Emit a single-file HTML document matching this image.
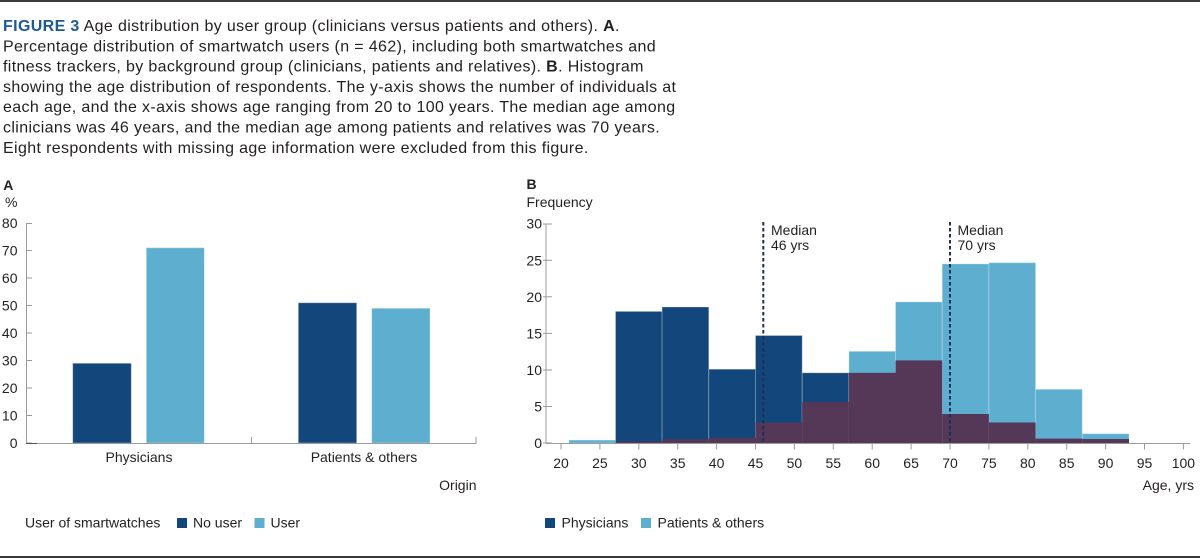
<!DOCTYPE html>
<html>
<head>
<meta charset="utf-8">
<style>
  html,body{margin:0;padding:0;background:#fff;}
  body{width:1200px;height:558px;overflow:hidden;}
  svg{display:block;}
  text{font-family:"Liberation Sans",Arial,Helvetica,sans-serif;fill:#231f20;}
  .cap{font-size:16px;letter-spacing:0.36px;}
  .t{font-size:14px;}
</style>
</head>
<body>
<svg width="1200" height="558" viewBox="0 0 1200 558" xmlns="http://www.w3.org/2000/svg">
  <!-- borders -->
  <rect x="0" y="0" width="1200" height="2" fill="#3a3a3a"/>
  <rect x="0" y="556" width="1200" height="2" fill="#3a3a3a"/>

  <!-- caption -->
  <text class="cap" x="3" y="31"><tspan font-weight="bold" style="fill:#1b5a96">FIGURE 3</tspan> Age distribution by user group (clinicians versus patients and others). <tspan font-weight="bold">A</tspan>.</text>
  <text class="cap" x="3" y="51.3">Percentage distribution of smartwatch users (n = 462), including both smartwatches and</text>
  <text class="cap" x="3" y="71.6">fitness trackers, by background group (clinicians, patients and relatives). <tspan font-weight="bold">B</tspan>. Histogram</text>
  <text class="cap" x="3" y="91.9">showing the age distribution of respondents. The y-axis shows the number of individuals at</text>
  <text class="cap" x="3" y="112.2">each age, and the x-axis shows age ranging from 20 to 100 years. The median age among</text>
  <text class="cap" x="3" y="132.5">clinicians was 46 years, and the median age among patients and relatives was 70 years.</text>
  <text class="cap" x="3" y="152.8">Eight respondents with missing age information were excluded from this figure.</text>

  <!-- ============ Panel A ============ -->
  <text class="t" x="3.3" y="190" font-weight="bold">A</text>
  <text class="t" x="5" y="207">%</text>

  <g class="t" text-anchor="end">
    <text x="17.5" y="448">0</text>
    <text x="17.5" y="420.5">10</text>
    <text x="17.5" y="393">20</text>
    <text x="17.5" y="365.5">30</text>
    <text x="17.5" y="338">40</text>
    <text x="17.5" y="310.5">50</text>
    <text x="17.5" y="283">60</text>
    <text x="17.5" y="255.5">70</text>
    <text x="17.5" y="228">80</text>
  </g>

  <!-- bars A -->
  <g stroke="#ffffff" stroke-opacity="0.3" stroke-width="1">
    <rect x="72.7" y="363.25" width="58.6" height="79.75" fill="#13477b"/>
    <rect x="146.3" y="247.75" width="58" height="195.25" fill="#5eaed0"/>
    <rect x="298.3" y="302.75" width="58.4" height="140.25" fill="#13477b"/>
    <rect x="371.7" y="308.25" width="58.3" height="134.75" fill="#5eaed0"/>
  </g>

  <!-- axes A -->
  <g stroke="#9b9b9b" stroke-width="1" fill="none">
    <line x1="26.5" y1="223" x2="26.5" y2="443.5"/>
    <line x1="26" y1="443.5" x2="476.5" y2="443.5"/>
    <line x1="26.5" y1="443" x2="32" y2="443"/>
    <line x1="26.5" y1="415.5" x2="32" y2="415.5"/>
    <line x1="26.5" y1="388" x2="32" y2="388"/>
    <line x1="26.5" y1="360.5" x2="32" y2="360.5"/>
    <line x1="26.5" y1="333" x2="32" y2="333"/>
    <line x1="26.5" y1="305.5" x2="32" y2="305.5"/>
    <line x1="26.5" y1="278" x2="32" y2="278"/>
    <line x1="26.5" y1="250.5" x2="32" y2="250.5"/>
    <line x1="26.5" y1="223.5" x2="32" y2="223.5"/>
    <line x1="251.5" y1="437" x2="251.5" y2="443.5"/>
    <line x1="476" y1="437" x2="476" y2="443.5"/>
  </g>
  <line x1="26" y1="443.5" x2="37" y2="443.5" stroke="#555" stroke-width="1"/>

  <text class="t" x="139" y="462" text-anchor="middle">Physicians</text>
  <text class="t" x="364" y="462" text-anchor="middle">Patients &amp; others</text>
  <text class="t" x="476.5" y="490" text-anchor="end">Origin</text>

  <!-- legend A -->
  <text class="t" x="25" y="527.7">User of smartwatches</text>
  <rect x="177" y="518" width="10" height="10" fill="#13477b"/>
  <text class="t" x="193" y="527.7">No user</text>
  <rect x="254.5" y="518" width="10" height="10" fill="#5eaed0"/>
  <text class="t" x="270.5" y="527.7">User</text>

  <!-- ============ Panel B ============ -->
  <text class="t" x="526.5" y="189" font-weight="bold">B</text>
  <text class="t" x="526.5" y="207">Frequency</text>

  <g class="t" text-anchor="end">
    <text x="542" y="448">0</text>
    <text x="542" y="411.5">5</text>
    <text x="542" y="375">10</text>
    <text x="542" y="338.4">15</text>
    <text x="542" y="301.8">20</text>
    <text x="542" y="265.3">25</text>
    <text x="542" y="228.7">30</text>
  </g>

  <!-- histogram -->
  <g stroke="#ffffff" stroke-opacity="0.25" stroke-width="1">
    <rect x="568.8" y="440.1" width="46.7" height="2.9" fill="#5eaed0"/>
    <rect x="615.5" y="311.4" width="46.6" height="131.6" fill="#13477b"/>
    <rect x="662.1" y="307.0" width="46.7" height="136.0" fill="#13477b"/>
    <rect x="708.8" y="369.2" width="46.7" height="73.8" fill="#13477b"/>
    <rect x="755.5" y="335.5" width="46.7" height="107.5" fill="#13477b"/>
    <rect x="802.2" y="372.8" width="46.7" height="70.2" fill="#13477b"/>
    <rect x="848.9" y="351.3" width="46.6" height="91.7" fill="#5eaed0"/>
    <rect x="895.5" y="301.9" width="46.7" height="141.1" fill="#5eaed0"/>
    <rect x="942.2" y="263.9" width="46.7" height="179.1" fill="#5eaed0"/>
    <rect x="988.9" y="262.7" width="46.7" height="180.3" fill="#5eaed0"/>
    <rect x="1035.6" y="389.3" width="46.7" height="53.7" fill="#5eaed0"/>
    <rect x="1082.3" y="433.7" width="46.7" height="9.3" fill="#5eaed0"/>
  </g>
  <g fill="#553757">
    <rect x="615.5" y="441.5" width="46.6" height="1.5"/>
    <rect x="662.1" y="439.3" width="46.7" height="3.7"/>
    <rect x="708.8" y="437.9" width="46.7" height="5.1"/>
    <rect x="755.5" y="422.5" width="46.7" height="20.5"/>
    <rect x="802.2" y="402.1" width="46.7" height="40.9"/>
    <rect x="848.9" y="372.8" width="46.6" height="70.2"/>
    <rect x="895.5" y="360.4" width="46.7" height="82.6"/>
    <rect x="942.2" y="414.0" width="46.7" height="29.0"/>
    <rect x="988.9" y="422.5" width="46.7" height="20.5"/>
    <rect x="1035.6" y="438.6" width="46.7" height="4.4"/>
    <rect x="1082.3" y="439.0" width="46.7" height="4.0"/>
  </g>

  <!-- axes B -->
  <g stroke="#9b9b9b" stroke-width="1" fill="none">
    <line x1="546" y1="224" x2="546" y2="443.5"/>
    <line x1="546" y1="443.5" x2="1190" y2="443.5"/>
    <line x1="543" y1="443" x2="552" y2="443"/>
    <line x1="543" y1="406.5" x2="552" y2="406.5"/>
    <line x1="543" y1="370" x2="552" y2="370"/>
    <line x1="543" y1="333.4" x2="552" y2="333.4"/>
    <line x1="543" y1="296.8" x2="552" y2="296.8"/>
    <line x1="543" y1="260.3" x2="552" y2="260.3"/>
    <line x1="543" y1="224" x2="552" y2="224"/>
    <line x1="561" y1="443.5" x2="561" y2="449.5"/>
    <line x1="599.9" y1="443.5" x2="599.9" y2="449.5"/>
    <line x1="638.8" y1="443.5" x2="638.8" y2="449.5"/>
    <line x1="677.7" y1="443.5" x2="677.7" y2="449.5"/>
    <line x1="716.6" y1="443.5" x2="716.6" y2="449.5"/>
    <line x1="755.5" y1="443.5" x2="755.5" y2="449.5"/>
    <line x1="794.4" y1="443.5" x2="794.4" y2="449.5"/>
    <line x1="833.3" y1="443.5" x2="833.3" y2="449.5"/>
    <line x1="872.2" y1="443.5" x2="872.2" y2="449.5"/>
    <line x1="911.1" y1="443.5" x2="911.1" y2="449.5"/>
    <line x1="950" y1="443.5" x2="950" y2="449.5"/>
    <line x1="988.9" y1="443.5" x2="988.9" y2="449.5"/>
    <line x1="1027.8" y1="443.5" x2="1027.8" y2="449.5"/>
    <line x1="1066.7" y1="443.5" x2="1066.7" y2="449.5"/>
    <line x1="1105.6" y1="443.5" x2="1105.6" y2="449.5"/>
    <line x1="1144.5" y1="443.5" x2="1144.5" y2="449.5"/>
    <line x1="1183.4" y1="443.5" x2="1183.4" y2="449.5"/>
  </g>

  <!-- median lines -->
  <g stroke="#1f2c5c" stroke-width="2" stroke-dasharray="3.5,2.5" fill="none">
    <line x1="763.3" y1="222" x2="763.3" y2="443"/>
    <line x1="950" y1="222" x2="950" y2="443"/>
  </g>
  <text class="t" x="771" y="235">Median</text>
  <text class="t" x="771" y="250">46 yrs</text>
  <text class="t" x="957.5" y="235">Median</text>
  <text class="t" x="957.5" y="250">70 yrs</text>

  <g class="t" text-anchor="middle">
    <text x="561" y="468">20</text>
    <text x="599.9" y="468">25</text>
    <text x="638.8" y="468">30</text>
    <text x="677.7" y="468">35</text>
    <text x="716.6" y="468">40</text>
    <text x="755.5" y="468">45</text>
    <text x="794.4" y="468">50</text>
    <text x="833.3" y="468">55</text>
    <text x="872.2" y="468">60</text>
    <text x="911.1" y="468">65</text>
    <text x="950" y="468">70</text>
    <text x="988.9" y="468">75</text>
    <text x="1027.8" y="468">80</text>
    <text x="1066.7" y="468">85</text>
    <text x="1105.6" y="468">90</text>
    <text x="1144.5" y="468">95</text>
    <text x="1183.4" y="468">100</text>
  </g>
  <text class="t" x="1194" y="490" text-anchor="end">Age, yrs</text>

  <!-- legend B -->
  <rect x="545" y="518" width="10" height="10" fill="#13477b"/>
  <text class="t" x="561.5" y="527.7">Physicians</text>
  <rect x="641" y="518" width="10" height="10" fill="#5eaed0"/>
  <text class="t" x="657.5" y="527.7">Patients &amp; others</text>
</svg>
</body>
</html>
